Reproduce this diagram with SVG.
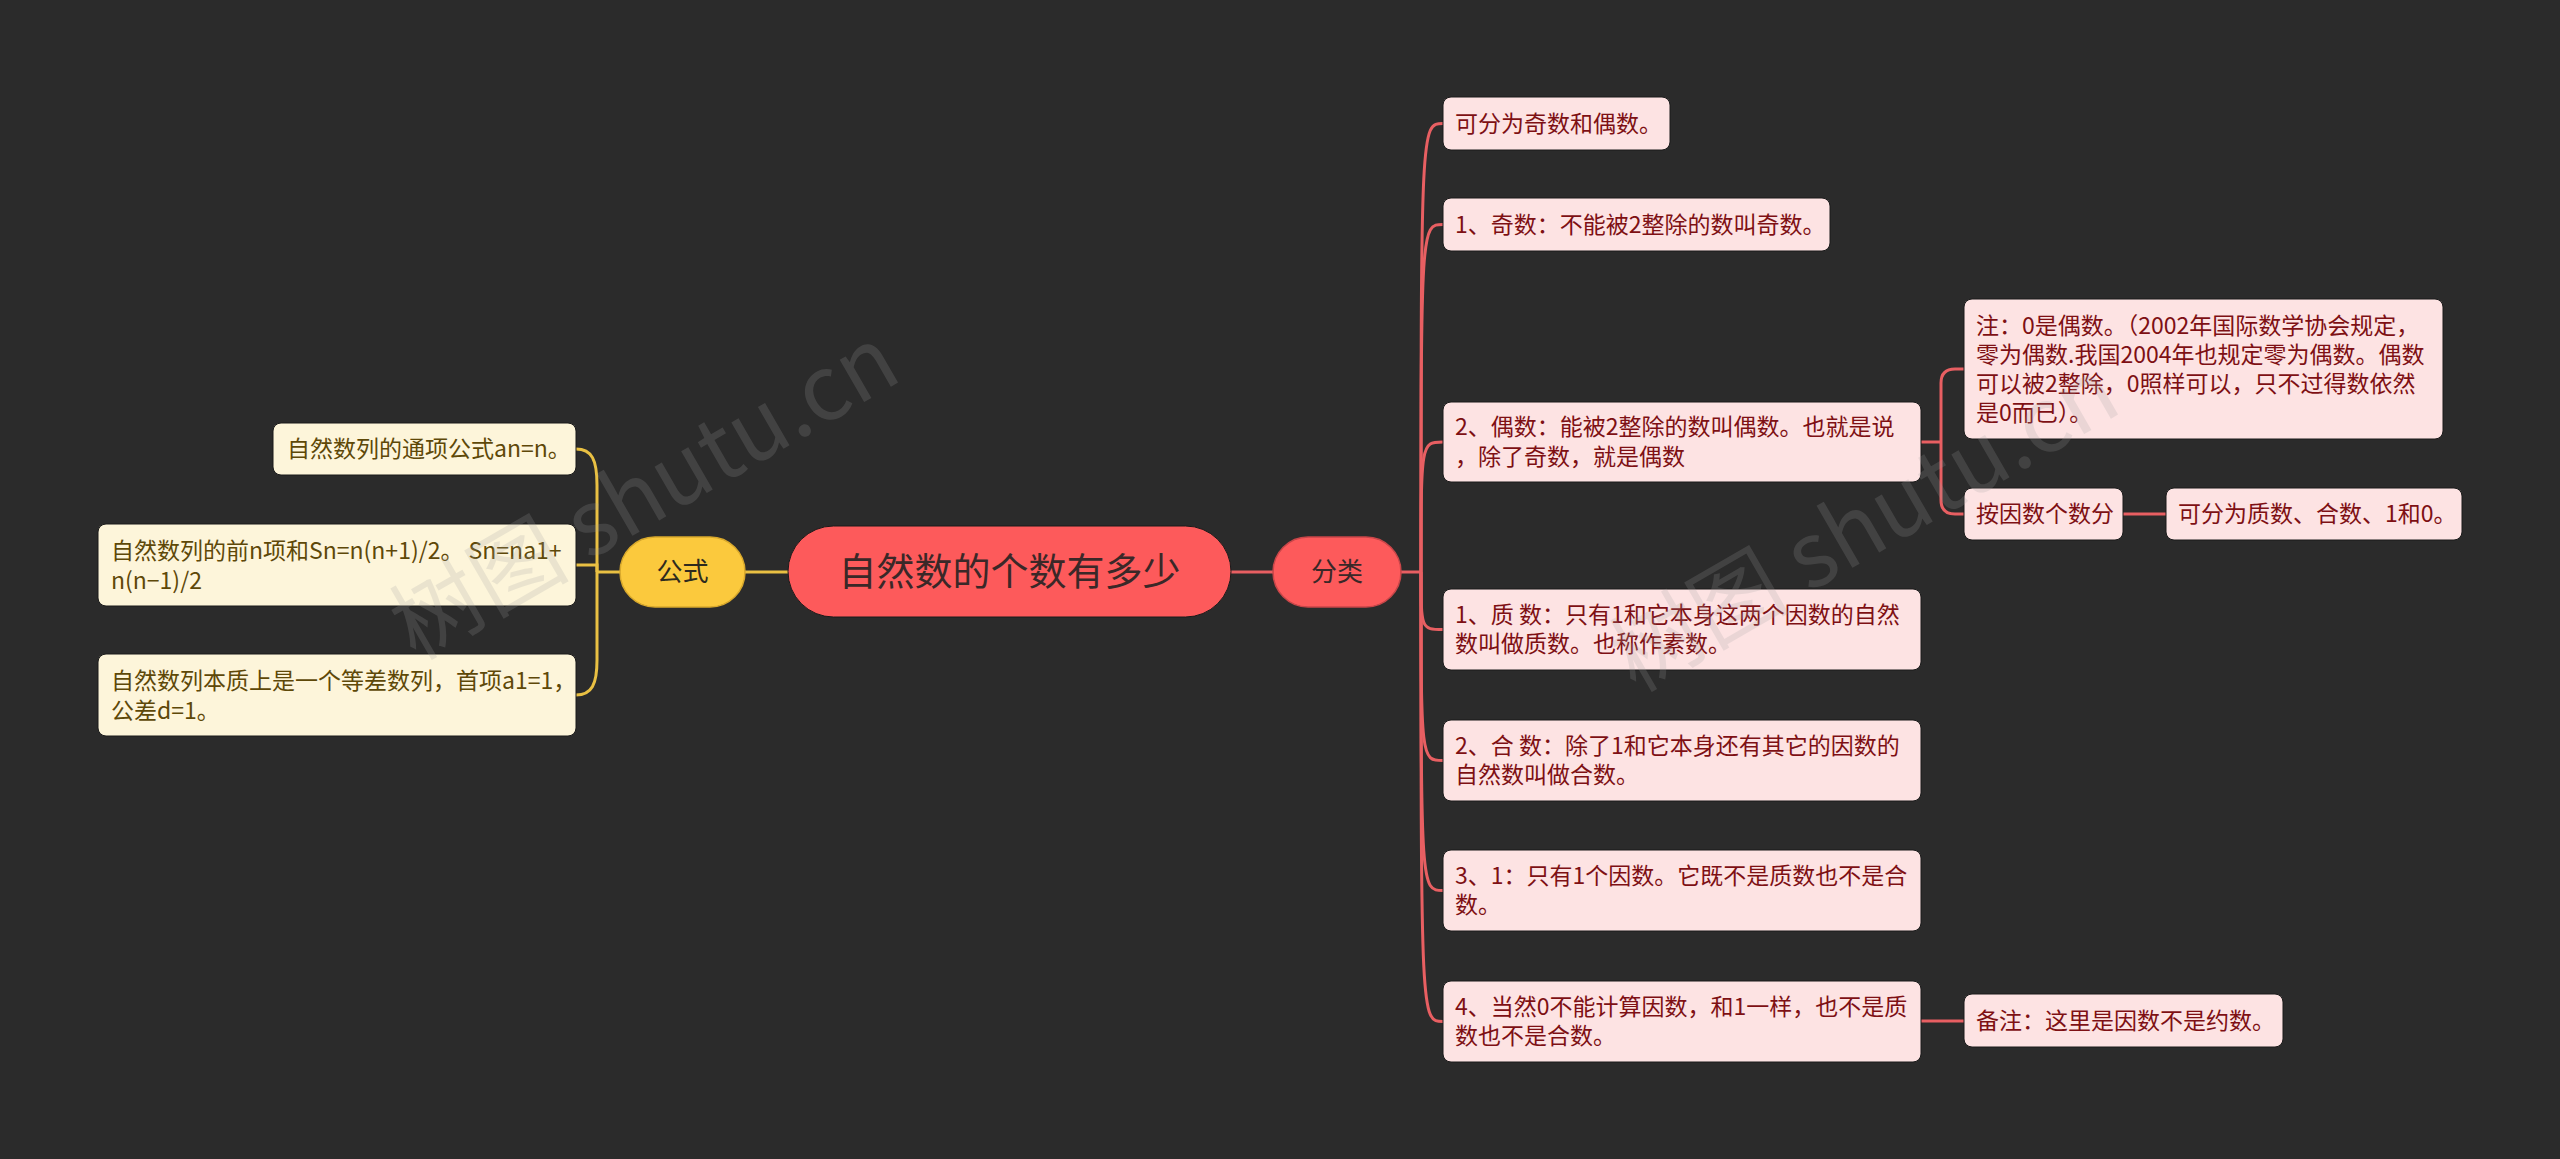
<svg xmlns="http://www.w3.org/2000/svg" width="2560" height="1159" viewBox="0 0 2560 1159">
<style>
text{font-family:"Noto Sans CJK SC","Noto Sans",sans-serif;}
.y{fill:none;stroke:#e9c043;stroke-width:3;}
.r{fill:none;stroke:#e85f62;stroke-width:3;}
.cream rect{fill:#fdf5da;stroke:#1a1a1a;stroke-width:1;}
.cream text{fill:#5e4808;font-size:23px;}
.pink rect{fill:#fde3e3;stroke:#1a1a1a;stroke-width:1;}
.pink text{fill:#7e1014;font-size:23px;}
.wm{font-size:90px;fill:#a0a0a0;opacity:0.2;}
</style>
<rect x="0" y="0" width="2560" height="1159" fill="#2b2b2b"/>
<g id="connectors">
<path class="y" d="M788,572 L745,572"/>
<path class="y" d="M620,572 L597,572"/>
<path class="y" d="M597,572 L597,485 C597,460 592,449 576,449"/>
<path class="y" d="M597,572 L597,565 L576,565"/>
<path class="y" d="M597,572 L597,660 C597,684 592,695 576,695"/>
<path class="r" d="M1231,572 L1273,572"/>
<path class="r" d="M1401,572 L1421,572"/>
<path class="r" d="M1421,572 C1421,123.5 1421,123.5 1443,123.5"/>
<path class="r" d="M1421,572 C1421,224.5 1421,224.5 1443,224.5"/>
<path class="r" d="M1421,572 C1421,442 1421,442 1443,442"/>
<path class="r" d="M1421,572 C1421,629.5 1421,629.5 1443,629.5"/>
<path class="r" d="M1421,572 C1421,760.5 1421,760.5 1443,760.5"/>
<path class="r" d="M1421,572 C1421,890.5 1421,890.5 1443,890.5"/>
<path class="r" d="M1421,572 C1421,1021.5 1421,1021.5 1443,1021.5"/>
<path class="r" d="M1921,442 L1941,442"/>
<path class="r" d="M1941,442 L1941,383 Q1941,369 1955,369 L1964,369"/>
<path class="r" d="M1941,442 L1941,500 Q1941,514 1955,514 L1964,514"/>
<path class="r" d="M2123,514 L2166,514"/>
<path class="r" d="M1921,1021 L1964,1021"/>
</g>
<g id="root">
<rect x="788" y="526" width="443" height="91" rx="45.5" fill="#fd5a5b" stroke="#1a1a1a" stroke-width="1"/>
<text x="1009.5" y="585" font-size="38" text-anchor="middle" fill="#3a2828">自然数的个数有多少</text>
</g>
<g id="gongshi">
<rect x="620" y="537" width="125" height="70" rx="35" fill="#fbc93d" stroke="#d9a92c" stroke-width="1.5"/>
<text x="682.5" y="581" font-size="26" text-anchor="middle" fill="#2e2a1e">公式</text>
</g>
<g id="fenlei">
<rect x="1273" y="537" width="128" height="70" rx="35" fill="#fd5a5b" stroke="#c94649" stroke-width="1.5"/>
<text x="1337" y="581" font-size="26" text-anchor="middle" fill="#3a2828">分类</text>
</g>
<g id="f1" class="cream">
<rect x="273" y="423" width="303" height="52" rx="8"/>
<text x="287" y="457">自然数列的通项公式an=n。</text>
</g>
<g id="f2" class="cream">
<rect x="98" y="524" width="478" height="82" rx="8"/>
<text x="111" y="559">自然数列的前n项和Sn=n(n+1)/2。 Sn=na1+</text>
<text x="111" y="589">n(n−1)/2</text>
</g>
<g id="f3" class="cream">
<rect x="98" y="654" width="478" height="82" rx="8"/>
<text x="111" y="689">自然数列本质上是一个等差数列，首项a1=1，</text>
<text x="111" y="719">公差d=1。</text>
</g>
<g id="c1" class="pink">
<rect x="1443" y="97" width="227" height="53" rx="8"/>
<text x="1455" y="132">可分为奇数和偶数。</text>
</g>
<g id="c2" class="pink">
<rect x="1443" y="198" width="387" height="53" rx="8"/>
<text x="1455" y="233">1、奇数：不能被2整除的数叫奇数。</text>
</g>
<g id="c3" class="pink">
<rect x="1443" y="402" width="478" height="80" rx="8"/>
<text x="1455" y="435">2、偶数：能被2整除的数叫偶数。也就是说</text>
<text x="1455" y="465">，除了奇数，就是偶数</text>
</g>
<g id="c3a" class="pink">
<rect x="1964" y="299" width="479" height="140" rx="8"/>
<text x="1976" y="334">注：0是偶数。（2002年国际数学协会规定，</text>
<text x="1976" y="363">零为偶数.我国2004年也规定零为偶数。偶数</text>
<text x="1976" y="392">可以被2整除，0照样可以，只不过得数依然</text>
<text x="1976" y="421">是0而已）。</text>
</g>
<g id="c3b" class="pink">
<rect x="1964" y="488" width="159" height="52" rx="8"/>
<text x="1976" y="522">按因数个数分</text>
</g>
<g id="c3b1" class="pink">
<rect x="2166" y="488" width="296" height="52" rx="8"/>
<text x="2178" y="522">可分为质数、合数、1和0。</text>
</g>
<g id="c4" class="pink">
<rect x="1443" y="589" width="478" height="81" rx="8"/>
<text x="1455" y="623">1、质 数：只有1和它本身这两个因数的自然</text>
<text x="1455" y="652">数叫做质数。也称作素数。</text>
</g>
<g id="c5" class="pink">
<rect x="1443" y="720" width="478" height="81" rx="8"/>
<text x="1455" y="754">2、合 数：除了1和它本身还有其它的因数的</text>
<text x="1455" y="783">自然数叫做合数。</text>
</g>
<g id="c6" class="pink">
<rect x="1443" y="850" width="478" height="81" rx="8"/>
<text x="1455" y="884">3、1：只有1个因数。它既不是质数也不是合</text>
<text x="1455" y="913">数。</text>
</g>
<g id="c7" class="pink">
<rect x="1443" y="981" width="478" height="81" rx="8"/>
<text x="1455" y="1015">4、当然0不能计算因数，和1一样，也不是质</text>
<text x="1455" y="1044">数也不是合数。</text>
</g>
<g id="c7a" class="pink">
<rect x="1964" y="994" width="319" height="53" rx="8"/>
<text x="1976" y="1029">备注：这里是因数不是约数。</text>
</g>
<g id="watermark">
<text class="wm" transform="translate(660,520) rotate(-30)" text-anchor="middle">树图 shutu.cn</text>
<text class="wm" transform="translate(1880,552) rotate(-30)" text-anchor="middle">树图 shutu.cn</text>
</g>
</svg>
